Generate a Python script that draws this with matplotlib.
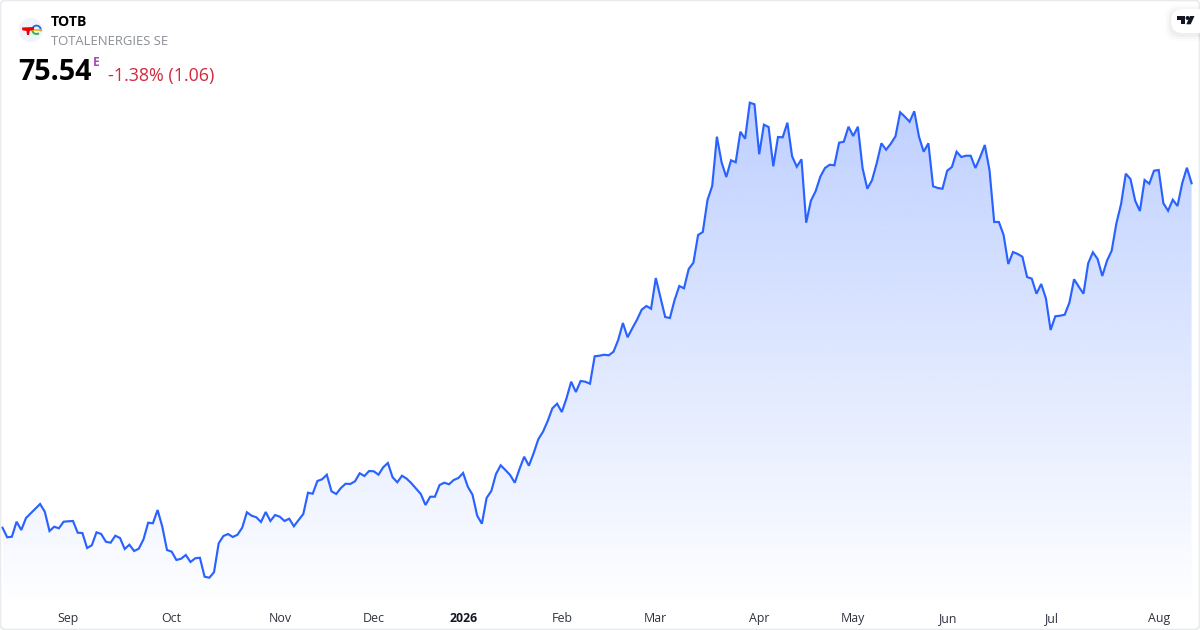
import numpy as np
from matplotlib import pyplot as plt
from matplotlib.patches import Circle, FancyBboxPatch, Polygon

# Daily closes (price scale estimated from the last value)
closes = [
    51.43, 50.76, 50.80, 51.85, 51.27, 52.11, 52.44, 52.76, 53.09, 52.55, 51.20, 51.50, 51.39, 51.85, 51.88, 51.90,
    51.08, 51.06, 50.01, 50.20, 51.11, 50.99, 50.45, 50.38, 50.87, 50.71, 49.94, 50.24, 49.80, 49.96, 50.62, 51.78,
    51.74, 52.67, 51.50, 49.87, 49.75, 49.17, 49.26, 49.52, 49.03, 49.29, 49.33, 48.00, 47.93, 48.31, 50.34, 50.85,
    50.99, 50.78, 50.94, 51.43, 52.51, 52.27, 52.16, 51.83, 52.53, 51.90, 52.32, 52.20, 51.90, 52.06, 51.53, 51.97,
    52.39, 53.88, 53.81, 54.70, 54.82, 55.14, 53.98, 53.79, 54.21, 54.51, 54.49, 54.68, 55.24, 55.05, 55.40, 55.38,
    55.14, 55.66, 55.96, 54.96, 54.61, 55.07, 54.86, 54.54, 54.16, 53.79, 53.02, 53.60, 53.60, 54.42, 54.58, 54.47,
    54.77, 54.91, 55.26, 54.30, 53.74, 52.27, 51.71, 53.51, 54.00, 55.19, 55.80, 55.47, 55.12, 54.58, 55.54, 56.40,
    55.77, 56.64, 57.62, 58.15, 58.90,
    59.79, 60.11, 59.53, 60.49, 61.65, 60.93, 61.70, 61.65, 61.51, 63.43, 63.47, 63.54, 63.50, 63.75, 64.57, 65.76,
    64.76, 65.39, 65.99, 66.69, 66.95, 66.76, 68.91, 67.53, 66.18, 66.11, 67.37, 68.35, 68.19, 69.54, 69.98,
    71.92, 72.13, 74.37, 75.35, 78.80, 77.01, 75.98, 77.15, 77.01, 79.15, 78.66, 81.18, 81.07, 77.57, 79.64, 79.48,
    76.73, 78.78, 78.76, 79.78, 77.43, 76.70, 77.22, 72.78, 74.32, 74.98, 76.00, 76.61, 76.84, 76.80, 78.38, 78.45,
    79.50, 78.85, 79.50, 76.59, 75.16, 75.75, 76.94, 78.34, 77.89, 78.31, 78.83, 80.51, 80.20, 79.85, 80.58, 78.80,
    77.75, 78.34, 75.33, 75.21, 75.16,
    76.42, 76.68, 77.75, 77.38, 77.47, 77.47, 76.61, 77.36, 78.22, 76.47, 72.83, 72.83, 71.92, 69.89, 70.73, 70.59,
    70.40, 68.98, 68.86, 67.81, 68.49, 67.49, 65.27, 66.23, 66.27, 66.34, 67.18, 68.82, 68.30, 67.81, 69.94, 70.71,
    70.24, 69.05, 70.12, 70.82, 72.74, 74.09, 76.21, 75.84, 74.32, 73.60, 75.77, 75.51, 76.42, 76.47, 74.14, 73.62,
    74.39, 73.95, 75.54, 76.63, 75.54,
]
monthLabels = ['Sep', 'Oct', 'Nov', 'Dec', '2026', 'Feb', 'Mar', 'Apr', 'May', 'Jun', 'Jul', 'Aug']
monthStarts = [14, 36, 59, 79, 98, 119, 139, 161, 181, 201, 223, 246]

symbol = 'TOTB'
company = 'TOTALENERGIES SE'
lastPrice = '75.54'
change = '-1.38% (1.06)'

lineColor = '#2962FF'
plt.rcParams['font.family'] = ['Open Sans', 'DejaVu Sans']

fig = plt.figure(figsize=(12, 6.3), dpi=100)
ax = fig.add_axes([0, 0, 1, 1])
x = np.arange(len(closes))
ax.axis('off')

# Area below the line: vertical fade clipped to the polygon
top = max(closes)
floor = 46.3
fade = np.zeros((256, 1, 4))
fade[:, :, :3] = np.array([41, 98, 255]) / 255
fade[:, 0, 3] = np.linspace(0.30, 0.006, 256)
img = ax.imshow(fade, extent=(x[0], x[-1], floor, top), origin='upper', aspect='auto', zorder=1)
area = Polygon(np.r_[np.c_[x, closes], [[x[-1], floor], [x[0], floor]]], closed=True,
               transform=ax.transData, fc='none', ec='none')
ax.add_patch(area)
img.set_clip_path(area)
ax.set_xlim(-0.532, 254.79)
ax.set_ylim(44.27, 88.37)
ax.plot(x, closes, color=lineColor, linewidth=1.55, solid_joinstyle='miter', zorder=3)

# Overlay in pixel coordinates for the header, logo and card
over = fig.add_axes([0, 0, 1, 1], facecolor='none')
over.set_xlim(0, 1200)
over.set_ylim(630, 0)
over.axis('off')

for label, start in zip(monthLabels, monthStarts):
    px = 2.5 + 4.7 * start
    over.text(px, 618.5, label, ha='center', va='center', fontsize=8.9, color='#131722' if label == '2026' else '#2F3340',
              fontweight='bold' if label == '2026' else 'normal')

over.add_patch(FancyBboxPatch((0.5, 0.5), 1199, 629, boxstyle='round,pad=0,rounding_size=5',
                              fc='none', ec='#E9EAEE', lw=1.2, zorder=6))

# Logo
over.add_patch(Circle((30.7, 30), 12, fc='#F0F3FA', ec='none', zorder=4))
t = np.linspace(-0.1, 5.1, 40)
over.plot(36.5 + 4.2 * np.cos(t[:24]), 29.8 - 4.2 * np.sin(t[:24]), color='#2E6FE0', lw=1.4, zorder=5)
over.plot(36.5 + 4.2 * np.cos(t[23:]), 29.8 - 4.2 * np.sin(t[23:]), color='#35B34A', lw=1.4, zorder=5)
over.plot([33, 40.5], [30.2, 30.2], color='#F2B01E', lw=1.2, zorder=5)
over.add_patch(Polygon([[22, 27.5], [34, 27], [34, 29.8], [29.8, 30.8], [29, 35], [27, 35], [26.5, 31], [22.3, 30.3]],
                       fc='#ED0000', ec='none', zorder=6))

over.text(51, 21.5, symbol, fontsize=10.2, fontweight='bold', color='#000000', va='center')
over.text(51, 41.5, company, fontsize=9.45, color='#8B8E96', va='center')
over.text(18, 72.5, lastPrice, fontsize=20.6, fontweight='bold', color='#000000', va='center')
over.text(93, 62.5, 'E', fontsize=8.6, fontweight='bold', color='#AB47BC', va='center')
over.text(108, 76, change, fontsize=12.9, color='#D1293D', va='center')

# TradingView badge
for grow, alpha in [(6, 0.012), (4, 0.02), (2, 0.03)]:
    over.add_patch(FancyBboxPatch((1171 - grow, 9 - grow + 2), 45 + 2 * grow, 24 + 2 * grow,
                                  boxstyle='round,pad=0,rounding_size=12', fc='black', ec='none',
                                  alpha=alpha, zorder=7, clip_on=True))
over.add_patch(FancyBboxPatch((1171, 9), 45, 24, boxstyle='round,pad=0,rounding_size=12',
                              fc='white', ec='none', zorder=8))
over.add_patch(Polygon([[1177, 16], [1185, 16], [1185, 24.3], [1181, 24.3], [1181, 19.8], [1177, 19.8]],
                       fc='#131722', ec='none', zorder=9))
over.add_patch(Circle((1187.6, 18), 2, fc='#131722', ec='none', zorder=9))
over.add_patch(Polygon([[1190, 16], [1194.5, 16], [1190.7, 24.3], [1186.3, 24.3]], fc='#131722', ec='none', zorder=9))

fig.savefig('out.png', dpi=100)
